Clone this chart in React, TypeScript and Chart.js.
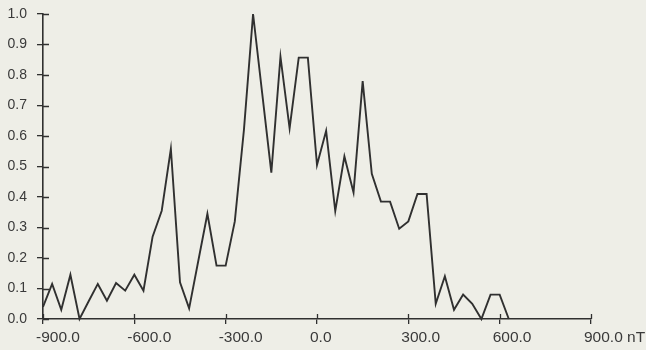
import { useEffect, useRef } from "react";
import { Chart, registerables } from "chart.js";

Chart.register(...registerables);

// Field values (nT) of the sampled points
const fieldNT = [
  -900, -870, -840, -810, -780, -750, -720, -690, -660, -630,
  -600, -570, -540, -510, -480, -450, -420, -390, -360, -330,
  -300, -270, -240, -210, -180, -150, -120, -90, -60, -30,
  0, 30, 60, 90, 120, 150, 180, 210, 240, 270,
  300, 330, 360, 390, 420, 450, 480, 510, 540, 570,
  600, 630,
];

// Relative frequency at each field value
const relFrequency = [
  0.04, 0.115, 0.03, 0.145, 0.0, 0.058, 0.115, 0.06, 0.118, 0.093,
  0.145, 0.093, 0.27, 0.355, 0.558, 0.12, 0.035, 0.19, 0.345, 0.175,
  0.175, 0.32, 0.62, 1.0, 0.74, 0.48, 0.86, 0.625, 0.857, 0.857,
  0.505, 0.617, 0.354, 0.533, 0.415, 0.78, 0.476, 0.385, 0.385, 0.296,
  0.32, 0.41, 0.41, 0.05, 0.14, 0.03, 0.08, 0.05, 0.0, 0.08,
  0.08, 0.0,
];

const xTickValues = [-900, -600, -300, 0, 300, 600, 900];
const xTickLabels = ["-900.0", "-600.0", "-300.0", "0.0", "300.0", "600.0", "900.0 nT"];
const yTickValues = [0, 0.1, 0.2, 0.3, 0.4, 0.5, 0.6, 0.7, 0.8, 0.9, 1.0];
const yTickLabels = ["0.0", "0.1", "0.2", "0.3", "0.4", "0.5", "0.6", "0.7", "0.8", "0.9", "1.0"];

const BG = "#eeeee7";
const INK = "#303030";
const TEXT = "#3a3a3a";
const FONT = "'Liberation Sans', Arial, Helvetica, sans-serif";

const innerTicks = {
  id: "innerTicks",
  afterDraw(chart: any) {
    const { ctx, chartArea } = chart;
    const x = chart.scales.x;
    const y = chart.scales.y;
    ctx.save();
    ctx.strokeStyle = INK;
    ctx.lineWidth = 1.3;
    ctx.beginPath();
    y.ticks.forEach((t: any) => {
      const py = Math.round(y.getPixelForValue(t.value)) + 0.5;
      ctx.moveTo(chartArea.left, py);
      ctx.lineTo(chartArea.left + 6, py);
    });
    x.ticks.forEach((t: any) => {
      const px = Math.round(x.getPixelForValue(t.value)) + 0.5;
      ctx.moveTo(px, chartArea.bottom);
      ctx.lineTo(px, chartArea.bottom - 5);
    });
    ctx.stroke();
    ctx.restore();
  },
};

const paperBg = {
  id: "paperBg",
  beforeDraw(chart: any) {
    const { ctx, width, height } = chart;
    ctx.save();
    ctx.fillStyle = BG;
    ctx.fillRect(0, 0, width, height);
    ctx.restore();
  },
};

export default function App() {
  const ref = useRef<HTMLCanvasElement | null>(null);

  useEffect(() => {
    if (!ref.current) return;
    const points = fieldNT.map((v, i) => ({ x: v, y: relFrequency[i] }));
    const chart = new Chart(ref.current, {
      type: "line",
      data: {
        datasets: [
          {
            data: points,
            borderColor: INK,
            borderWidth: 1.9,
            pointRadius: 0,
            tension: 0,
            fill: false,
            clip: false as any,
          },
        ],
      },
      options: {
        animation: false,
        responsive: false,
        layout: { padding: { top: 14, right: 55, left: 0, bottom: 0 } },
        plugins: { legend: { display: false }, tooltip: { enabled: false } },
        scales: {
          x: {
            type: "linear",
            min: -900,
            max: 900,
            afterBuildTicks: (scale: any) => {
              scale.ticks = xTickValues.map((v) => ({ value: v }));
            },
            afterFit: (scale: any) => {
              scale.height = 31;
              scale.paddingLeft = 0;
              scale.paddingRight = 0;
            },
            border: { display: true, color: INK, width: 1.6 },
            grid: {
              drawOnChartArea: false,
              drawTicks: true,
              tickLength: 5,
              color: INK,
              lineWidth: 1.3,
            },
            ticks: {
              autoSkip: false,
              maxRotation: 0,
              minRotation: 0,
              align: "start",
              labelOffset: -7,
              padding: 4,
              color: TEXT,
              font: { family: FONT, size: 15.5 },
              callback: (value: any) => {
                const i = xTickValues.indexOf(Number(value));
                return i >= 0 ? xTickLabels[i] : "";
              },
            },
          },
          y: {
            type: "linear",
            min: 0,
            max: 1,
            afterBuildTicks: (scale: any) => {
              scale.ticks = yTickValues.map((v) => ({ value: v }));
            },
            afterFit: (scale: any) => {
              scale.width = 43;
              scale.paddingTop = 0;
              scale.paddingBottom = 0;
            },
            border: { display: true, color: INK, width: 1.6 },
            grid: {
              drawOnChartArea: false,
              drawTicks: true,
              tickLength: 6,
              color: INK,
              lineWidth: 1.3,
            },
            ticks: {
              autoSkip: false,
              padding: 10,
              color: TEXT,
              font: { family: FONT, size: 14 },
              callback: (value: any) => {
                const i = yTickValues.findIndex((v) => Math.abs(v - Number(value)) < 1e-9);
                return i >= 0 ? yTickLabels[i] : "";
              },
            },
          },
        },
      } as any,
      plugins: [paperBg, innerTicks],
    });
    return () => chart.destroy();
  }, []);

  return (
    <div
      style={{
        position: "fixed",
        left: 0,
        top: 0,
        width: 646,
        height: 350,
        background: BG,
      }}
    >
      <canvas ref={ref} width={646} height={350} style={{ display: "block" }} />
    </div>
  );
}
